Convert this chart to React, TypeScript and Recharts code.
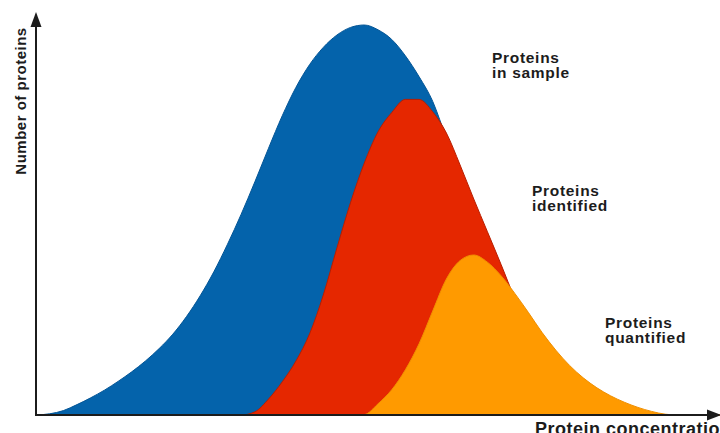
import { AreaChart, Area, XAxis, YAxis } from 'recharts';

// ──────────────────────────────────────────────────────────
// Data (arbitrary units)
// ──────────────────────────────────────────────────────────

const concentration = [
  0, 2, 4, 6, 8, 10, 12, 14, 16, 18, 20, 22, 24, 26, 28, 30, 32, 34, 36, 38,
  40, 42, 44, 46, 48, 50, 52, 54, 56, 58, 60, 62, 64, 66, 68, 70, 72, 74, 76,
  78, 80, 82, 84, 86, 88, 90, 92, 94, 96, 98, 100,
];

const inSample = [
  0, 0.3, 1.1, 2.6, 4.3, 6.2, 8.4, 10.8, 13.5, 16.6, 20.2, 24.6, 29.8, 35.8,
  42.7, 50.2, 58.3, 66.7, 74.8, 81.9, 87.6, 91.9, 95, 96.9, 97.5, 96.3, 93.9,
  89.8, 84.6, 78.4, 69.2, 60.5, 52.2, 44.5, 35, 26.2, 17.5, 10, 5, 1.7, 0, 0,
  0, 0, 0, 0, 0, 0, 0, 0, 0,
];

const identified = [
  0, 0, 0, 0, 0, 0, 0, 0, 0, 0, 0, 0, 0, 0, 0, 0, 0.8, 4, 8.3, 13.5, 20.3,
  30, 41.8, 53.2, 63, 70.8, 75.6, 78.9, 78.9, 75.8, 70.5, 62.5, 54, 45.8,
  37.6, 29, 20.5, 13, 7, 3, 0.8, 0, 0, 0, 0, 0, 0, 0, 0, 0, 0,
];

const quantified = [
  0, 0, 0, 0, 0, 0, 0, 0, 0, 0, 0, 0, 0, 0, 0, 0, 0, 0, 0, 0, 0, 0, 0, 0,
  0.1, 2.8, 6.3, 11.3, 17.8, 26, 34, 38.6, 40, 38.2, 34.8, 30.4, 25.6, 20.6,
  16.2, 12.4, 9.3, 6.8, 4.8, 3.2, 1.9, 0.9, 0.2, 0, 0, 0, 0,
];

const chartData = concentration.map((c, i) => ({
  conc: c,
  sample: inSample[i],
  identified: identified[i],
  quantified: quantified[i],
}));

// ──────────────────────────────────────────────────────────
// Styles
// ──────────────────────────────────────────────────────────

const BLUE = '#0463ab';
const RED = '#e52700';
const ORANGE = '#ff9a00';
const INK = '#1c1c1c';
const FONT = '"Liberation Sans", Arial, Helvetica, sans-serif';

const labelStyle = {
  fontFamily: FONT,
  fontWeight: 700,
  fontSize: 15.5,
  letterSpacing: 0.7,
  fill: INK,
};

function SeriesLabel({ x, y, lines }: { x: number; y: number; lines: string[] }) {
  return (
    <text x={x} y={y} style={labelStyle}>
      {lines.map((line, i) => (
        <tspan key={line} x={x} dy={i === 0 ? 0 : 15}>
          {line}
        </tspan>
      ))}
    </text>
  );
}

export default function App() {
  return (
    <div style={{ position: 'relative', width: 720, height: 433, background: '#fff' }}>
      <style>{'body{margin:0}'}</style>
      <AreaChart
        width={720}
        height={433}
        data={chartData}
        margin={{ top: 15, right: 0, bottom: 18, left: 36 }}
      >
        <XAxis
          dataKey="conc"
          type="number"
          domain={[0, 100]}
          height={0}
          tick={false}
          tickLine={false}
          axisLine={false}
        />
        <YAxis
          type="number"
          domain={[0, 100]}
          width={0}
          tick={false}
          tickLine={false}
          axisLine={false}
        />
        <Area
          type="monotone"
          dataKey="sample"
          fill={BLUE}
          fillOpacity={1}
          stroke="#035596"
          strokeWidth={1}
          isAnimationActive={false}
        />
        <Area
          type="monotone"
          dataKey="identified"
          fill={RED}
          fillOpacity={1}
          stroke="#b81e00"
          strokeWidth={1}
          isAnimationActive={false}
        />
        <Area
          type="monotone"
          dataKey="quantified"
          fill={ORANGE}
          fillOpacity={1}
          stroke="#f08f00"
          strokeWidth={1}
          isAnimationActive={false}
        />
      </AreaChart>

      {/* axes with arrow heads and annotations */}
      <svg
        width={720}
        height={433}
        style={{ position: 'absolute', left: 0, top: 0, pointerEvents: 'none' }}
      >
        <line x1={36} y1={416} x2={36} y2={24} stroke={INK} strokeWidth={2} />
        <polygon points="36,12 30.5,27 41.5,27" fill={INK} />
        <line x1={35} y1={415} x2={710} y2={415} stroke={INK} strokeWidth={2} />
        <polygon points="721,415 707,409.5 707,420.5" fill={INK} />

        <text
          transform="translate(26,101) rotate(-90)"
          textAnchor="middle"
          style={{ ...labelStyle, fontSize: 15, letterSpacing: 0.5 }}
        >
          Number of proteins
        </text>
        <text x={535} y={435} style={{ ...labelStyle, fontSize: 18, letterSpacing: 0.5 }}>
          Protein concentration
        </text>

        <SeriesLabel x={492} y={63} lines={['Proteins', 'in sample']} />
        <SeriesLabel x={532} y={196} lines={['Proteins', 'identified']} />
        <SeriesLabel x={605} y={328} lines={['Proteins', 'quantified']} />
      </svg>
    </div>
  );
}
